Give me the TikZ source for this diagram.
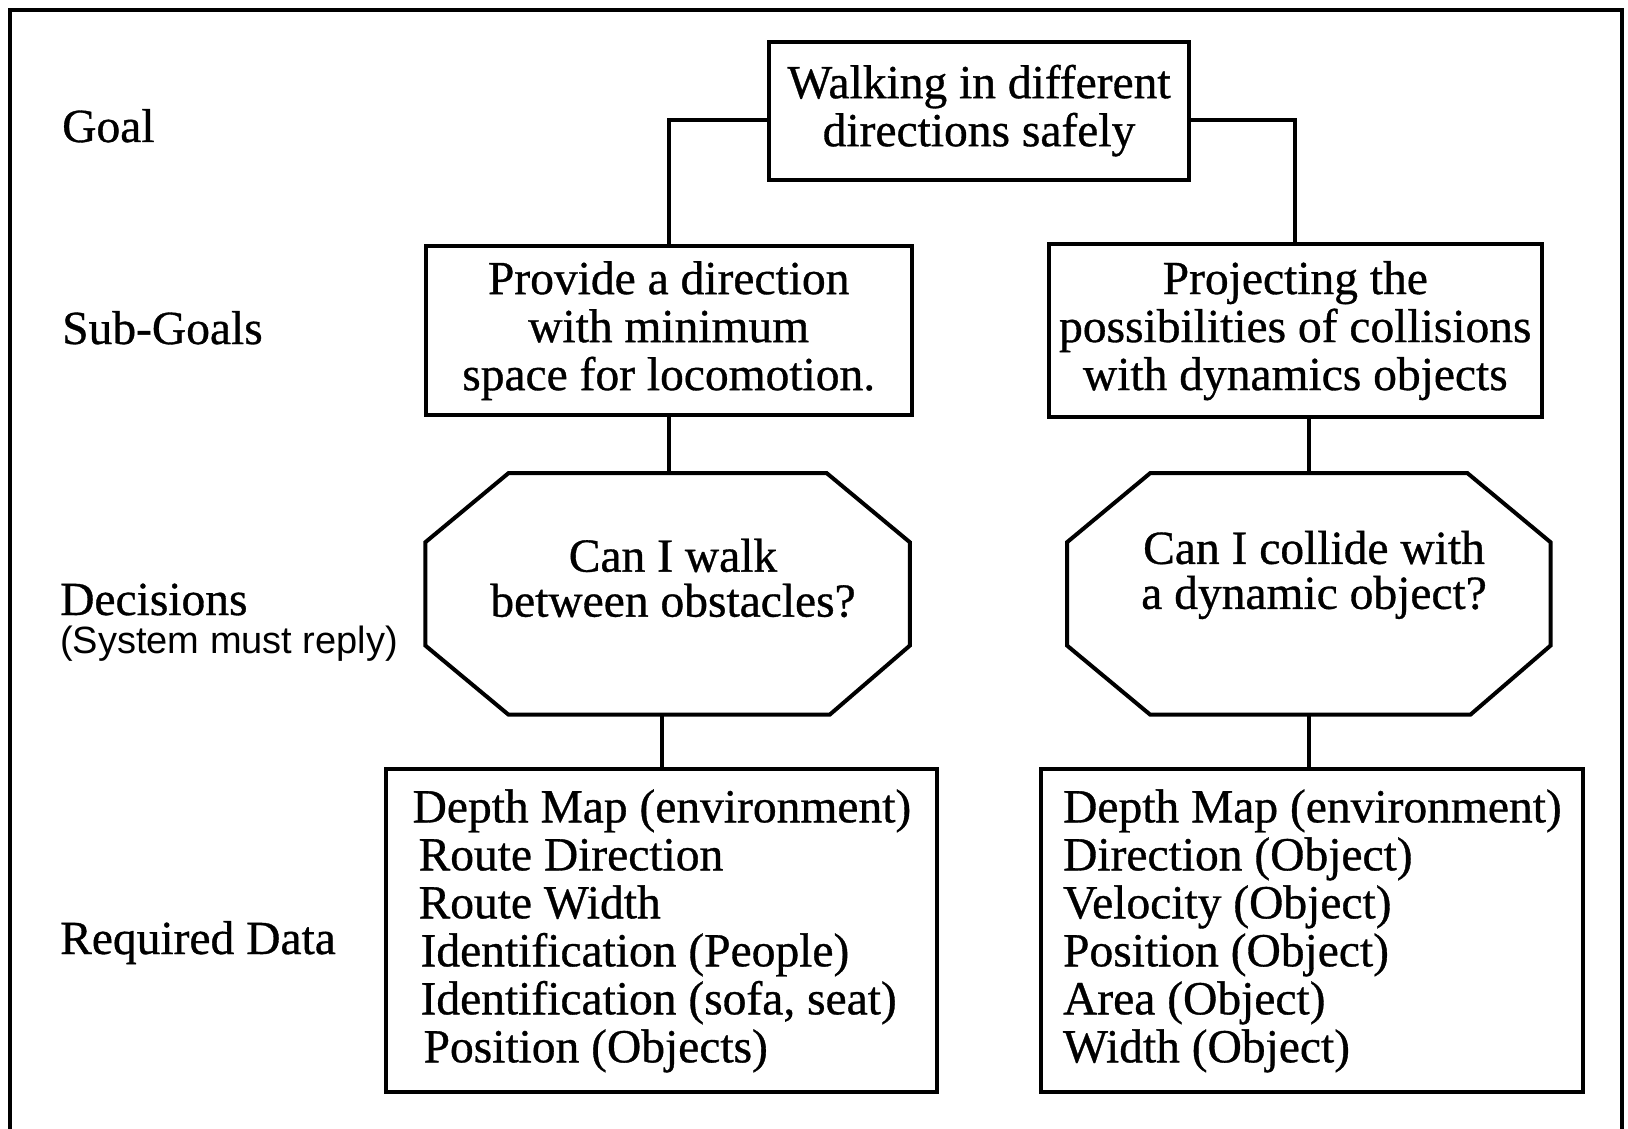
\documentclass[tikz,border=0pt]{standalone}
\usepackage{fontspec}
\setmainfont{Liberation Serif}[FakeBold=0.7]
\newfontfamily\lsans{Liberation Sans}
\usetikzlibrary{calc}
\tikzset{
  box/.style={draw, line width=4pt, inner sep=0pt, align=center,
    font=\fontsize{47.5}{48}\selectfont},
  hidden/.style={inner sep=0pt, align=center, font=\fontsize{47.5}{45}\selectfont},
  lbl/.style={inner sep=0pt, anchor=base west, font=\fontsize{47.5}{48}\selectfont},
  conn/.style={line width=4pt},
  octa/.style={line width=4pt, line join=miter}
}
\begin{document}
\begin{tikzpicture}[x=1pt,y=-1pt]
\useasboundingbox (0,0) rectangle (1628,1129);
\clip (0,0) rectangle (1628,1129);
\fill[white] (0,0) rectangle (1628,1129);
% outer frame
\draw[line width=4pt] (10.4,1160) -- (10.4,10.4) -- (1621.8,10.4) -- (1621.8,1160);

% row labels
\node[lbl] (lgoal) at (62,142) {Goal};
\node[lbl] (lsub) at (62,344) {Sub-Goals};
\node[lbl] (ldec) at (60,615) {Decisions};
\node[inner sep=0pt, anchor=base west, font=\lsans\fontsize{38}{40}\selectfont] (lsys) at (60,653) {(System must reply)};
\node[lbl] (lreq) at (60,954) {Required Data};

% goal
\node[box, minimum width=420pt, minimum height=138pt] (goal) at (979,110.6)
  {Walking in different\\directions safely};
% sub-goals
\node[box, minimum width=486pt, minimum height=169pt] (subL) at (668.7,330.7)
  {Provide a direction\\with minimum\\space for locomotion.};
\node[box, minimum width=493pt, minimum height=173pt] (subR) at (1295.3,330.7)
  {Projecting the\\possibilities of collisions\\with dynamics objects};
% decisions (octagons)
\node[minimum width=484pt, minimum height=241pt, inner sep=0pt] (octL) at (667.6,593.9) {};
\node[minimum width=483pt, minimum height=241pt, inner sep=0pt] (octR) at (1308.8,593.9) {};
\draw[octa] ($(octL.north west)+(83,0)$) -- ($(octL.north east)+(-83,0)$)
  -- ($(octL.north east)+(0,69)$) -- ($(octL.south east)+(0,-69)$)
  -- ($(octL.south east)+(-80,0)$) -- ($(octL.south west)+(83,0)$)
  -- ($(octL.south west)+(0,-69)$) -- ($(octL.north west)+(0,69)$) -- cycle;
\draw[octa] ($(octR.north west)+(83,0)$) -- ($(octR.north east)+(-83,0)$)
  -- ($(octR.north east)+(0,69)$) -- ($(octR.south east)+(0,-69)$)
  -- ($(octR.south east)+(-80,0)$) -- ($(octR.south west)+(83,0)$)
  -- ($(octR.south west)+(0,-69)$) -- ($(octR.north west)+(0,69)$) -- cycle;
\node[hidden] (tL) at (673,578) {Can I walk\\between obstacles?};
\node[hidden] (tR) at (1314,575) {Can I collide with\\a dynamic object?};
% required data
\node[box, align=left, minimum width=551pt, minimum height=323pt] (dataL) at (661.9,930.9)
  {Depth Map (environment)\\
   \hspace*{6pt}Route Direction\\
   \hspace*{6pt}Route Width\\
   \hspace*{8pt}Identification (People)\\
   \hspace*{8pt}Identification (sofa, seat)\\
   \hspace*{11pt}Position (Objects)};
\node[box, align=left, minimum width=542pt, minimum height=323pt] (dataR) at (1312.4,930.9)
  {Depth Map (environment)\\
   Direction (Object)\\
   Velocity (Object)\\
   Position (Object)\\
   Area (Object)\\
   Width (Object)};

% connectors
\draw[conn] ([yshift=-9pt]goal.west) -| (subL.north);
\draw[conn] ([yshift=-9pt]goal.east) -| (subR.north);
\draw[conn] (subL.south) -- (subL.south |- octL.north);
\draw[conn] (octR.north |- subR.south) -- (octR.north);
\draw[conn] (dataL.north |- octL.south) -- (dataL.north);
\draw[conn] (octR.south) -- (octR.south |- dataR.north);
\end{tikzpicture}
\end{document}
